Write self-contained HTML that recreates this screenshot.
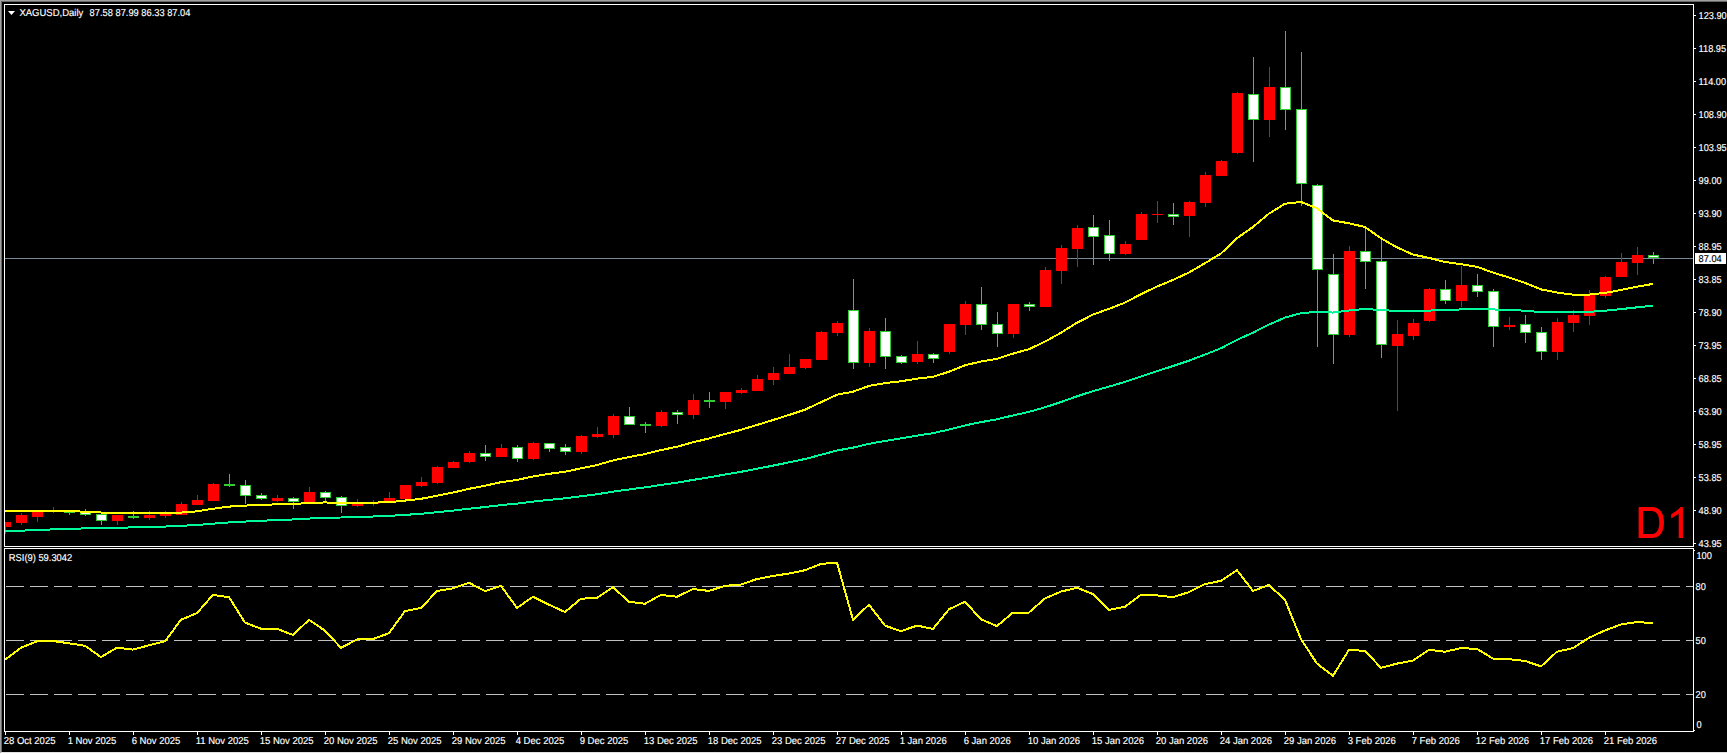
<!DOCTYPE html><html><head><meta charset="utf-8"><style>html,body{margin:0;padding:0;background:#000;}body{width:1727px;height:754px;overflow:hidden;}svg{display:block;}text{font-family:"Liberation Sans",sans-serif;text-rendering:geometricPrecision;}</style></head><body>
<svg width="1727" height="754" viewBox="0 0 1727 754">
<rect x="0" y="0" width="1727" height="754" fill="#000"/>
<rect x="0" y="0" width="1727" height="1" fill="#a0a0a0"/>
<rect x="0" y="0" width="1" height="753" fill="#a0a0a0"/>
<rect x="1" y="1" width="1726" height="1" fill="#696969"/>
<rect x="1" y="1" width="1" height="751" fill="#696969"/>
<rect x="1" y="752" width="1726" height="1" fill="#e3e3e3"/>
<rect x="0" y="753" width="1727" height="1" fill="#ffffff"/>
<g shape-rendering="crispEdges">
<rect x="4" y="4" width="1690" height="1" fill="#fff"/>
<rect x="4" y="546" width="1690" height="1" fill="#fff"/>
<rect x="4" y="4" width="1" height="543" fill="#fff"/>
<rect x="1693" y="4" width="1" height="543" fill="#fff"/>
<rect x="4" y="548" width="1690" height="1" fill="#fff"/>
<rect x="4" y="731" width="1690" height="1" fill="#fff"/>
<rect x="4" y="548" width="1" height="184" fill="#fff"/>
<rect x="1693" y="548" width="1" height="184" fill="#fff"/>
<rect x="1694" y="15" width="2" height="1" fill="#fff"/>
<rect x="1694" y="48" width="2" height="1" fill="#fff"/>
<rect x="1694" y="81" width="2" height="1" fill="#fff"/>
<rect x="1694" y="114" width="2" height="1" fill="#fff"/>
<rect x="1694" y="147" width="2" height="1" fill="#fff"/>
<rect x="1694" y="180" width="2" height="1" fill="#fff"/>
<rect x="1694" y="213" width="2" height="1" fill="#fff"/>
<rect x="1694" y="246" width="2" height="1" fill="#fff"/>
<rect x="1694" y="279" width="2" height="1" fill="#fff"/>
<rect x="1694" y="312" width="2" height="1" fill="#fff"/>
<rect x="1694" y="345" width="2" height="1" fill="#fff"/>
<rect x="1694" y="378" width="2" height="1" fill="#fff"/>
<rect x="1694" y="411" width="2" height="1" fill="#fff"/>
<rect x="1694" y="444" width="2" height="1" fill="#fff"/>
<rect x="1694" y="477" width="2" height="1" fill="#fff"/>
<rect x="1694" y="510" width="2" height="1" fill="#fff"/>
<rect x="1694" y="543" width="2" height="1" fill="#fff"/>
<rect x="1694" y="550" width="1" height="1" fill="#fff"/>
<rect x="1694" y="730" width="1" height="1" fill="#fff"/>
<rect x="5" y="732" width="1" height="3" fill="#fff"/>
<rect x="69" y="732" width="1" height="3" fill="#fff"/>
<rect x="133" y="732" width="1" height="3" fill="#fff"/>
<rect x="197" y="732" width="1" height="3" fill="#fff"/>
<rect x="261" y="732" width="1" height="3" fill="#fff"/>
<rect x="325" y="732" width="1" height="3" fill="#fff"/>
<rect x="389" y="732" width="1" height="3" fill="#fff"/>
<rect x="453" y="732" width="1" height="3" fill="#fff"/>
<rect x="517" y="732" width="1" height="3" fill="#fff"/>
<rect x="581" y="732" width="1" height="3" fill="#fff"/>
<rect x="645" y="732" width="1" height="3" fill="#fff"/>
<rect x="709" y="732" width="1" height="3" fill="#fff"/>
<rect x="773" y="732" width="1" height="3" fill="#fff"/>
<rect x="837" y="732" width="1" height="3" fill="#fff"/>
<rect x="901" y="732" width="1" height="3" fill="#fff"/>
<rect x="965" y="732" width="1" height="3" fill="#fff"/>
<rect x="1029" y="732" width="1" height="3" fill="#fff"/>
<rect x="1093" y="732" width="1" height="3" fill="#fff"/>
<rect x="1157" y="732" width="1" height="3" fill="#fff"/>
<rect x="1221" y="732" width="1" height="3" fill="#fff"/>
<rect x="1285" y="732" width="1" height="3" fill="#fff"/>
<rect x="1349" y="732" width="1" height="3" fill="#fff"/>
<rect x="1413" y="732" width="1" height="3" fill="#fff"/>
<rect x="1477" y="732" width="1" height="3" fill="#fff"/>
<rect x="1541" y="732" width="1" height="3" fill="#fff"/>
<rect x="1605" y="732" width="1" height="3" fill="#fff"/>
<line x1="6" y1="586.5" x2="1693" y2="586.5" stroke="#c0c0c0" stroke-width="1" stroke-dasharray="18 6"/>
<line x1="6" y1="640.5" x2="1693" y2="640.5" stroke="#c0c0c0" stroke-width="1" stroke-dasharray="18 6"/>
<line x1="6" y1="694.5" x2="1693" y2="694.5" stroke="#c0c0c0" stroke-width="1" stroke-dasharray="18 6"/>
<rect x="5" y="258" width="1688" height="1" fill="#778899"/>
<clipPath id="cm"><rect x="5" y="5" width="1688" height="541"/></clipPath>
<g clip-path="url(#cm)">
<rect x="5" y="522" width="1" height="12" fill="#ff0000"/>
<rect x="0" y="522" width="11" height="5" fill="#ff0000"/>
<rect x="21" y="513" width="1" height="12" fill="#ff0000"/>
<rect x="16" y="515" width="11" height="8" fill="#ff0000"/>
<rect x="37" y="510" width="1" height="12" fill="#ff0000"/>
<rect x="32" y="512" width="11" height="5" fill="#ff0000"/>
<rect x="53" y="507" width="1" height="6" fill="#ff0000"/>
<rect x="48" y="510" width="11" height="2" fill="#ff0000"/>
<rect x="69" y="510" width="1" height="5" fill="#32cd32"/>
<rect x="64" y="512" width="11" height="1" fill="#32cd32"/>
<rect x="85" y="509" width="1" height="7" fill="#32cd32"/>
<rect x="80" y="512" width="11" height="3" fill="#32cd32"/>
<rect x="81" y="513" width="9" height="1" fill="#fff"/>
<rect x="101" y="514" width="1" height="11" fill="#32cd32"/>
<rect x="96" y="514" width="11" height="7" fill="#32cd32"/>
<rect x="97" y="515" width="9" height="5" fill="#fff"/>
<rect x="117" y="515" width="1" height="10" fill="#ff0000"/>
<rect x="112" y="515" width="11" height="6" fill="#ff0000"/>
<rect x="133" y="511" width="1" height="8" fill="#32cd32"/>
<rect x="128" y="516" width="11" height="2" fill="#32cd32"/>
<rect x="149" y="511" width="1" height="9" fill="#ff0000"/>
<rect x="144" y="515" width="11" height="3" fill="#ff0000"/>
<rect x="165" y="511" width="1" height="7" fill="#ff0000"/>
<rect x="160" y="514" width="11" height="2" fill="#ff0000"/>
<rect x="181" y="502" width="1" height="13" fill="#ff0000"/>
<rect x="176" y="504" width="11" height="11" fill="#ff0000"/>
<rect x="197" y="495" width="1" height="10" fill="#ff0000"/>
<rect x="192" y="500" width="11" height="5" fill="#ff0000"/>
<rect x="213" y="483" width="1" height="18" fill="#ff0000"/>
<rect x="208" y="484" width="11" height="17" fill="#ff0000"/>
<rect x="229" y="474" width="1" height="13" fill="#32cd32"/>
<rect x="224" y="484" width="11" height="2" fill="#32cd32"/>
<rect x="245" y="480" width="1" height="24" fill="#32cd32"/>
<rect x="240" y="485" width="11" height="11" fill="#32cd32"/>
<rect x="241" y="486" width="9" height="9" fill="#fff"/>
<rect x="261" y="493" width="1" height="7" fill="#32cd32"/>
<rect x="256" y="495" width="11" height="4" fill="#32cd32"/>
<rect x="257" y="496" width="9" height="2" fill="#fff"/>
<rect x="277" y="495" width="1" height="7" fill="#ff0000"/>
<rect x="272" y="498" width="11" height="3" fill="#ff0000"/>
<rect x="293" y="497" width="1" height="12" fill="#32cd32"/>
<rect x="288" y="498" width="11" height="4" fill="#32cd32"/>
<rect x="289" y="499" width="9" height="2" fill="#fff"/>
<rect x="309" y="487" width="1" height="15" fill="#ff0000"/>
<rect x="304" y="492" width="11" height="10" fill="#ff0000"/>
<rect x="325" y="491" width="1" height="11" fill="#32cd32"/>
<rect x="320" y="492" width="11" height="6" fill="#32cd32"/>
<rect x="321" y="493" width="9" height="4" fill="#fff"/>
<rect x="341" y="496" width="1" height="17" fill="#32cd32"/>
<rect x="336" y="497" width="11" height="9" fill="#32cd32"/>
<rect x="337" y="498" width="9" height="7" fill="#fff"/>
<rect x="357" y="499" width="1" height="8" fill="#ff0000"/>
<rect x="352" y="502" width="11" height="4" fill="#ff0000"/>
<rect x="373" y="500" width="1" height="6" fill="#ff0000"/>
<rect x="368" y="502" width="11" height="2" fill="#ff0000"/>
<rect x="389" y="492" width="1" height="9" fill="#ff0000"/>
<rect x="384" y="498" width="11" height="3" fill="#ff0000"/>
<rect x="405" y="485" width="1" height="14" fill="#ff0000"/>
<rect x="400" y="485" width="11" height="14" fill="#ff0000"/>
<rect x="421" y="477" width="1" height="10" fill="#ff0000"/>
<rect x="416" y="482" width="11" height="4" fill="#ff0000"/>
<rect x="437" y="466" width="1" height="18" fill="#ff0000"/>
<rect x="432" y="467" width="11" height="16" fill="#ff0000"/>
<rect x="453" y="461" width="1" height="7" fill="#ff0000"/>
<rect x="448" y="462" width="11" height="6" fill="#ff0000"/>
<rect x="469" y="451" width="1" height="12" fill="#ff0000"/>
<rect x="464" y="453" width="11" height="9" fill="#ff0000"/>
<rect x="485" y="445" width="1" height="16" fill="#32cd32"/>
<rect x="480" y="453" width="11" height="4" fill="#32cd32"/>
<rect x="481" y="454" width="9" height="2" fill="#fff"/>
<rect x="501" y="444" width="1" height="13" fill="#ff0000"/>
<rect x="496" y="448" width="11" height="9" fill="#ff0000"/>
<rect x="517" y="445" width="1" height="17" fill="#32cd32"/>
<rect x="512" y="447" width="11" height="12" fill="#32cd32"/>
<rect x="513" y="448" width="9" height="10" fill="#fff"/>
<rect x="533" y="442" width="1" height="18" fill="#ff0000"/>
<rect x="528" y="443" width="11" height="16" fill="#ff0000"/>
<rect x="549" y="443" width="1" height="9" fill="#32cd32"/>
<rect x="544" y="443" width="11" height="6" fill="#32cd32"/>
<rect x="545" y="444" width="9" height="4" fill="#fff"/>
<rect x="565" y="444" width="1" height="11" fill="#32cd32"/>
<rect x="560" y="447" width="11" height="5" fill="#32cd32"/>
<rect x="561" y="448" width="9" height="3" fill="#fff"/>
<rect x="581" y="435" width="1" height="19" fill="#ff0000"/>
<rect x="576" y="436" width="11" height="16" fill="#ff0000"/>
<rect x="597" y="427" width="1" height="11" fill="#ff0000"/>
<rect x="592" y="434" width="11" height="3" fill="#ff0000"/>
<rect x="613" y="414" width="1" height="24" fill="#ff0000"/>
<rect x="608" y="416" width="11" height="19" fill="#ff0000"/>
<rect x="629" y="407" width="1" height="18" fill="#32cd32"/>
<rect x="624" y="416" width="11" height="9" fill="#32cd32"/>
<rect x="625" y="417" width="9" height="7" fill="#fff"/>
<rect x="645" y="422" width="1" height="11" fill="#32cd32"/>
<rect x="640" y="424" width="11" height="2" fill="#32cd32"/>
<rect x="661" y="410" width="1" height="17" fill="#ff0000"/>
<rect x="656" y="412" width="11" height="14" fill="#ff0000"/>
<rect x="677" y="410" width="1" height="14" fill="#32cd32"/>
<rect x="672" y="412" width="11" height="3" fill="#32cd32"/>
<rect x="673" y="413" width="9" height="1" fill="#fff"/>
<rect x="693" y="394" width="1" height="25" fill="#ff0000"/>
<rect x="688" y="400" width="11" height="15" fill="#ff0000"/>
<rect x="709" y="392" width="1" height="16" fill="#32cd32"/>
<rect x="704" y="400" width="11" height="2" fill="#32cd32"/>
<rect x="725" y="392" width="1" height="17" fill="#ff0000"/>
<rect x="720" y="392" width="11" height="10" fill="#ff0000"/>
<rect x="741" y="388" width="1" height="6" fill="#ff0000"/>
<rect x="736" y="390" width="11" height="3" fill="#ff0000"/>
<rect x="757" y="375" width="1" height="16" fill="#ff0000"/>
<rect x="752" y="379" width="11" height="12" fill="#ff0000"/>
<rect x="773" y="367" width="1" height="18" fill="#ff0000"/>
<rect x="768" y="373" width="11" height="7" fill="#ff0000"/>
<rect x="789" y="354" width="1" height="20" fill="#ff0000"/>
<rect x="784" y="367" width="11" height="7" fill="#ff0000"/>
<rect x="805" y="359" width="1" height="10" fill="#ff0000"/>
<rect x="800" y="359" width="11" height="9" fill="#ff0000"/>
<rect x="821" y="331" width="1" height="29" fill="#ff0000"/>
<rect x="816" y="332" width="11" height="28" fill="#ff0000"/>
<rect x="837" y="321" width="1" height="15" fill="#ff0000"/>
<rect x="832" y="323" width="11" height="10" fill="#ff0000"/>
<rect x="853" y="279" width="1" height="90" fill="#32cd32"/>
<rect x="848" y="310" width="11" height="53" fill="#32cd32"/>
<rect x="849" y="311" width="9" height="51" fill="#fff"/>
<rect x="869" y="328" width="1" height="39" fill="#ff0000"/>
<rect x="864" y="331" width="11" height="32" fill="#ff0000"/>
<rect x="885" y="318" width="1" height="51" fill="#32cd32"/>
<rect x="880" y="331" width="11" height="26" fill="#32cd32"/>
<rect x="881" y="332" width="9" height="24" fill="#fff"/>
<rect x="901" y="355" width="1" height="9" fill="#32cd32"/>
<rect x="896" y="356" width="11" height="7" fill="#32cd32"/>
<rect x="897" y="357" width="9" height="5" fill="#fff"/>
<rect x="917" y="341" width="1" height="23" fill="#ff0000"/>
<rect x="912" y="354" width="11" height="8" fill="#ff0000"/>
<rect x="933" y="353" width="1" height="10" fill="#32cd32"/>
<rect x="928" y="354" width="11" height="5" fill="#32cd32"/>
<rect x="929" y="355" width="9" height="3" fill="#fff"/>
<rect x="949" y="324" width="1" height="30" fill="#ff0000"/>
<rect x="944" y="324" width="11" height="28" fill="#ff0000"/>
<rect x="965" y="301" width="1" height="34" fill="#ff0000"/>
<rect x="960" y="304" width="11" height="21" fill="#ff0000"/>
<rect x="981" y="287" width="1" height="43" fill="#32cd32"/>
<rect x="976" y="304" width="11" height="21" fill="#32cd32"/>
<rect x="977" y="305" width="9" height="19" fill="#fff"/>
<rect x="997" y="312" width="1" height="35" fill="#32cd32"/>
<rect x="992" y="324" width="11" height="10" fill="#32cd32"/>
<rect x="993" y="325" width="9" height="8" fill="#fff"/>
<rect x="1013" y="304" width="1" height="34" fill="#ff0000"/>
<rect x="1008" y="304" width="11" height="30" fill="#ff0000"/>
<rect x="1029" y="302" width="1" height="9" fill="#32cd32"/>
<rect x="1024" y="304" width="11" height="3" fill="#32cd32"/>
<rect x="1025" y="305" width="9" height="1" fill="#fff"/>
<rect x="1045" y="267" width="1" height="40" fill="#ff0000"/>
<rect x="1040" y="270" width="11" height="37" fill="#ff0000"/>
<rect x="1061" y="245" width="1" height="39" fill="#ff0000"/>
<rect x="1056" y="248" width="11" height="23" fill="#ff0000"/>
<rect x="1077" y="225" width="1" height="42" fill="#ff0000"/>
<rect x="1072" y="228" width="11" height="21" fill="#ff0000"/>
<rect x="1093" y="215" width="1" height="50" fill="#32cd32"/>
<rect x="1088" y="227" width="11" height="10" fill="#32cd32"/>
<rect x="1089" y="228" width="9" height="8" fill="#fff"/>
<rect x="1109" y="220" width="1" height="41" fill="#32cd32"/>
<rect x="1104" y="235" width="11" height="19" fill="#32cd32"/>
<rect x="1105" y="236" width="9" height="17" fill="#fff"/>
<rect x="1125" y="241" width="1" height="14" fill="#ff0000"/>
<rect x="1120" y="244" width="11" height="10" fill="#ff0000"/>
<rect x="1141" y="212" width="1" height="28" fill="#ff0000"/>
<rect x="1136" y="214" width="11" height="26" fill="#ff0000"/>
<rect x="1157" y="201" width="1" height="22" fill="#ff0000"/>
<rect x="1152" y="214" width="11" height="1" fill="#ff0000"/>
<rect x="1173" y="203" width="1" height="22" fill="#32cd32"/>
<rect x="1168" y="214" width="11" height="3" fill="#32cd32"/>
<rect x="1169" y="215" width="9" height="1" fill="#fff"/>
<rect x="1189" y="201" width="1" height="36" fill="#ff0000"/>
<rect x="1184" y="202" width="11" height="14" fill="#ff0000"/>
<rect x="1205" y="172" width="1" height="35" fill="#ff0000"/>
<rect x="1200" y="175" width="11" height="28" fill="#ff0000"/>
<rect x="1221" y="160" width="1" height="16" fill="#ff0000"/>
<rect x="1216" y="161" width="11" height="15" fill="#ff0000"/>
<rect x="1237" y="92" width="1" height="62" fill="#ff0000"/>
<rect x="1232" y="93" width="11" height="60" fill="#ff0000"/>
<rect x="1253" y="57" width="1" height="105" fill="#32cd32"/>
<rect x="1248" y="94" width="11" height="26" fill="#32cd32"/>
<rect x="1249" y="95" width="9" height="24" fill="#fff"/>
<rect x="1269" y="67" width="1" height="70" fill="#ff0000"/>
<rect x="1264" y="87" width="11" height="33" fill="#ff0000"/>
<rect x="1285" y="31" width="1" height="99" fill="#32cd32"/>
<rect x="1280" y="87" width="11" height="23" fill="#32cd32"/>
<rect x="1281" y="88" width="9" height="21" fill="#fff"/>
<rect x="1301" y="52" width="1" height="154" fill="#32cd32"/>
<rect x="1296" y="109" width="11" height="75" fill="#32cd32"/>
<rect x="1297" y="110" width="9" height="73" fill="#fff"/>
<rect x="1317" y="184" width="1" height="163" fill="#32cd32"/>
<rect x="1312" y="185" width="11" height="85" fill="#32cd32"/>
<rect x="1313" y="186" width="9" height="83" fill="#fff"/>
<rect x="1333" y="254" width="1" height="110" fill="#32cd32"/>
<rect x="1328" y="274" width="11" height="61" fill="#32cd32"/>
<rect x="1329" y="275" width="9" height="59" fill="#fff"/>
<rect x="1349" y="246" width="1" height="91" fill="#ff0000"/>
<rect x="1344" y="251" width="11" height="84" fill="#ff0000"/>
<rect x="1365" y="228" width="1" height="61" fill="#32cd32"/>
<rect x="1360" y="251" width="11" height="11" fill="#32cd32"/>
<rect x="1361" y="252" width="9" height="9" fill="#fff"/>
<rect x="1381" y="238" width="1" height="120" fill="#32cd32"/>
<rect x="1376" y="261" width="11" height="84" fill="#32cd32"/>
<rect x="1377" y="262" width="9" height="82" fill="#fff"/>
<rect x="1397" y="320" width="1" height="91" fill="#ff0000"/>
<rect x="1392" y="334" width="11" height="12" fill="#ff0000"/>
<rect x="1413" y="319" width="1" height="21" fill="#ff0000"/>
<rect x="1408" y="323" width="11" height="13" fill="#ff0000"/>
<rect x="1429" y="288" width="1" height="34" fill="#ff0000"/>
<rect x="1424" y="289" width="11" height="32" fill="#ff0000"/>
<rect x="1445" y="280" width="1" height="24" fill="#32cd32"/>
<rect x="1440" y="289" width="11" height="12" fill="#32cd32"/>
<rect x="1441" y="290" width="9" height="10" fill="#fff"/>
<rect x="1461" y="266" width="1" height="41" fill="#ff0000"/>
<rect x="1456" y="285" width="11" height="16" fill="#ff0000"/>
<rect x="1477" y="274" width="1" height="23" fill="#32cd32"/>
<rect x="1472" y="285" width="11" height="7" fill="#32cd32"/>
<rect x="1473" y="286" width="9" height="5" fill="#fff"/>
<rect x="1493" y="289" width="1" height="58" fill="#32cd32"/>
<rect x="1488" y="291" width="11" height="36" fill="#32cd32"/>
<rect x="1489" y="292" width="9" height="34" fill="#fff"/>
<rect x="1509" y="317" width="1" height="13" fill="#ff0000"/>
<rect x="1504" y="325" width="11" height="2" fill="#ff0000"/>
<rect x="1525" y="315" width="1" height="28" fill="#32cd32"/>
<rect x="1520" y="324" width="11" height="9" fill="#32cd32"/>
<rect x="1521" y="325" width="9" height="7" fill="#fff"/>
<rect x="1541" y="327" width="1" height="33" fill="#32cd32"/>
<rect x="1536" y="332" width="11" height="20" fill="#32cd32"/>
<rect x="1537" y="333" width="9" height="18" fill="#fff"/>
<rect x="1557" y="318" width="1" height="42" fill="#ff0000"/>
<rect x="1552" y="322" width="11" height="30" fill="#ff0000"/>
<rect x="1573" y="310" width="1" height="22" fill="#ff0000"/>
<rect x="1568" y="315" width="11" height="8" fill="#ff0000"/>
<rect x="1589" y="290" width="1" height="35" fill="#ff0000"/>
<rect x="1584" y="294" width="11" height="22" fill="#ff0000"/>
<rect x="1605" y="276" width="1" height="22" fill="#ff0000"/>
<rect x="1600" y="277" width="11" height="19" fill="#ff0000"/>
<rect x="1621" y="253" width="1" height="24" fill="#ff0000"/>
<rect x="1616" y="262" width="11" height="15" fill="#ff0000"/>
<rect x="1637" y="247" width="1" height="28" fill="#ff0000"/>
<rect x="1632" y="255" width="11" height="8" fill="#ff0000"/>
<rect x="1653" y="252" width="1" height="12" fill="#32cd32"/>
<rect x="1648" y="255" width="11" height="3" fill="#32cd32"/>
<rect x="1649" y="256" width="9" height="1" fill="#fff"/>
<polyline points="5,531.19 21,530.66 37,530.05 53,529.39 69,528.85 85,528.4 101,528.15 117,527.72 133,527.4 149,527.0 165,526.57 181,525.83 197,524.98 213,523.64 229,522.41 245,521.54 261,520.8 277,520.05 293,519.46 309,518.56 325,517.89 341,517.5 357,516.99 373,516.5 389,515.89 405,514.88 421,513.8 437,512.27 453,510.62 469,508.73 485,507.03 501,505.1 517,503.59 533,501.6 549,499.88 565,498.31 581,496.26 597,494.22 613,491.66 629,489.47 645,487.39 661,484.92 677,482.63 693,479.92 709,477.36 725,474.56 741,471.79 757,468.75 773,465.61 789,462.38 805,458.99 821,454.82 837,450.5 853,447.63 869,443.81 885,440.96 901,438.41 917,435.64 933,433.13 949,429.55 965,425.43 981,422.14 997,419.25 1013,415.47 1029,411.91 1045,407.26 1061,402.04 1077,396.33 1093,391.11 1109,386.61 1125,381.94 1141,376.43 1157,371.11 1173,366.05 1189,360.67 1205,354.59 1221,348.24 1237,339.87 1253,332.66 1269,324.61 1285,317.57 1301,313.19 1317,311.78 1333,312.54 1349,310.52 1365,308.93 1381,310.11 1397,310.89 1413,311.29 1429,310.56 1445,310.25 1461,309.42 1477,308.85 1493,309.44 1509,309.95 1525,310.71 1541,312.06 1557,312.39 1573,312.47 1589,311.87 1605,310.73 1621,309.13 1637,307.35 1653,305.74" fill="none" stroke="#00fa9a" stroke-width="2" stroke-linejoin="round"/>
<polyline points="5,510.69 21,511.1 37,511.19 53,511.07 69,511.26 85,511.61 101,512.51 117,512.74 133,513.25 149,513.41 165,513.47 181,512.57 197,511.37 213,508.76 229,506.6 245,505.59 261,504.96 277,504.3 293,504.08 309,502.93 325,502.46 341,502.8 357,502.72 373,502.65 389,502.21 405,500.57 421,498.8 437,495.77 453,492.56 469,488.79 485,485.76 501,482.16 517,479.96 533,476.44 549,473.83 565,471.75 581,468.34 597,465.07 613,460.4 629,457.03 645,454.07 661,450.07 677,446.73 693,442.28 709,438.44 725,434.02 741,429.82 757,424.98 773,420.03 789,414.98 805,409.65 821,402.26 837,394.71 853,391.69 869,385.91 885,383.15 901,381.24 917,378.64 933,376.77 949,371.75 965,365.29 981,361.46 997,358.84 1013,353.62 1029,349.18 1045,341.64 1061,332.72 1077,322.75 1093,314.58 1109,308.81 1125,302.64 1141,294.2 1157,286.56 1173,279.93 1189,272.51 1205,263.22 1221,253.49 1237,238.2 1253,226.95 1269,213.62 1285,203.75 1301,201.87 1317,208.36 1333,220.42 1349,223.33 1365,227.01 1381,238.25 1397,247.37 1413,254.57 1429,257.85 1445,261.96 1461,264.16 1477,266.81 1493,272.54 1509,277.54 1525,282.82 1541,289.41 1557,292.51 1573,294.65 1589,294.59 1605,292.92 1621,289.97 1637,286.64 1653,283.91" fill="none" stroke="#ffff00" stroke-width="2" stroke-linejoin="round"/>
</g>
<clipPath id="cr"><rect x="5" y="549" width="1688" height="182"/></clipPath>
<g clip-path="url(#cr)">
<polyline points="5,659.7 21,647.8 37,641.3 53,641 69,643.3 85,645.8 101,657.1 117,647.6 133,649.6 149,645.3 165,641.3 181,619.8 197,613 213,594.9 229,597.2 245,622.6 261,628.7 277,628.7 293,635 309,619.8 325,630.7 341,647.8 357,639.5 373,639 389,633.2 405,611 421,608 437,591.1 453,588.3 469,582.8 485,591.1 501,585.8 517,608 533,596.7 549,604.7 565,612 581,598.7 597,597.9 613,587.3 629,601.7 645,603.7 661,594.9 677,596.7 693,589.1 709,590.9 725,585.8 741,584.6 757,579 773,576 789,573.5 805,570.2 821,563.9 837,562.6 853,619.8 869,604.7 885,625.6 901,631.2 917,625.6 933,628.9 949,609.3 965,601.7 981,619.3 997,626.1 1013,612.5 1029,612.5 1045,598.4 1061,591.6 1077,587.8 1093,594.1 1109,610 1125,606.7 1141,594.9 1157,595.4 1173,597.2 1189,592.1 1205,584.1 1221,580.8 1237,570.2 1253,590.9 1269,585 1285,599.9 1301,639.2 1317,663.6 1333,675.8 1349,649.8 1365,650.9 1381,667.8 1397,663.6 1413,660.6 1429,649.8 1445,651.7 1461,648.1 1477,648.9 1493,658.6 1509,659.2 1525,660.9 1541,666.4 1557,651.7 1573,648.1 1589,637.8 1605,630.4 1621,624.5 1637,622 1653,623.2" fill="none" stroke="#ffff00" stroke-width="2" stroke-linejoin="round"/>
</g>
<rect x="1695" y="253" width="31" height="11" fill="#fff"/>
</g>
<g font-size="10" fill="#fff" stroke="#fff" stroke-width="0.15">
<text transform="translate(1698.6,19) scale(0.92,1)">123.90</text>
<text transform="translate(1698.6,52) scale(0.92,1)">118.95</text>
<text transform="translate(1698.6,85) scale(0.92,1)">114.00</text>
<text transform="translate(1698.6,118) scale(0.92,1)">108.90</text>
<text transform="translate(1698.6,151) scale(0.92,1)">103.95</text>
<text transform="translate(1698.6,184) scale(0.92,1)">99.00</text>
<text transform="translate(1698.6,217) scale(0.92,1)">93.90</text>
<text transform="translate(1698.6,250) scale(0.92,1)">88.95</text>
<text transform="translate(1698.6,283) scale(0.92,1)">83.85</text>
<text transform="translate(1698.6,316) scale(0.92,1)">78.90</text>
<text transform="translate(1698.6,349) scale(0.92,1)">73.95</text>
<text transform="translate(1698.6,382) scale(0.92,1)">68.85</text>
<text transform="translate(1698.6,415) scale(0.92,1)">63.90</text>
<text transform="translate(1698.6,448) scale(0.92,1)">58.95</text>
<text transform="translate(1698.6,481) scale(0.92,1)">53.85</text>
<text transform="translate(1698.6,514) scale(0.92,1)">48.90</text>
<text transform="translate(1698.6,547) scale(0.92,1)">43.95</text>
<text transform="translate(1698.6,262) scale(0.92,1)" fill="#000" stroke="#000">87.04</text>
<text transform="translate(1696.5,559) scale(0.92,1)">100</text>
<text transform="translate(1695.6,590) scale(0.92,1)">80</text>
<text transform="translate(1695.6,644) scale(0.92,1)">50</text>
<text transform="translate(1695.6,698) scale(0.92,1)">20</text>
<text transform="translate(1696.6,728) scale(0.92,1)">0</text>
<text transform="translate(3.7,744) scale(0.95,1)">28 Oct 2025</text>
<text transform="translate(67.7,744) scale(0.95,1)">1 Nov 2025</text>
<text transform="translate(131.7,744) scale(0.95,1)">6 Nov 2025</text>
<text transform="translate(195.7,744) scale(0.95,1)">11 Nov 2025</text>
<text transform="translate(259.7,744) scale(0.95,1)">15 Nov 2025</text>
<text transform="translate(323.7,744) scale(0.95,1)">20 Nov 2025</text>
<text transform="translate(387.7,744) scale(0.95,1)">25 Nov 2025</text>
<text transform="translate(451.7,744) scale(0.95,1)">29 Nov 2025</text>
<text transform="translate(515.7,744) scale(0.95,1)">4 Dec 2025</text>
<text transform="translate(579.7,744) scale(0.95,1)">9 Dec 2025</text>
<text transform="translate(643.7,744) scale(0.95,1)">13 Dec 2025</text>
<text transform="translate(707.7,744) scale(0.95,1)">18 Dec 2025</text>
<text transform="translate(771.7,744) scale(0.95,1)">23 Dec 2025</text>
<text transform="translate(835.7,744) scale(0.95,1)">27 Dec 2025</text>
<text transform="translate(899.7,744) scale(0.95,1)">1 Jan 2026</text>
<text transform="translate(963.7,744) scale(0.95,1)">6 Jan 2026</text>
<text transform="translate(1027.7,744) scale(0.95,1)">10 Jan 2026</text>
<text transform="translate(1091.7,744) scale(0.95,1)">15 Jan 2026</text>
<text transform="translate(1155.7,744) scale(0.95,1)">20 Jan 2026</text>
<text transform="translate(1219.7,744) scale(0.95,1)">24 Jan 2026</text>
<text transform="translate(1283.7,744) scale(0.95,1)">29 Jan 2026</text>
<text transform="translate(1347.7,744) scale(0.95,1)">3 Feb 2026</text>
<text transform="translate(1411.7,744) scale(0.95,1)">7 Feb 2026</text>
<text transform="translate(1475.7,744) scale(0.95,1)">12 Feb 2026</text>
<text transform="translate(1539.7,744) scale(0.95,1)">17 Feb 2026</text>
<text transform="translate(1603.7,744) scale(0.95,1)">21 Feb 2026</text>
<text transform="translate(19.4,16) scale(0.95,1)">XAGUSD,Daily</text>
<text transform="translate(89.6,16) scale(0.93,1)">87.58 87.99 86.33 87.04</text>
<text transform="translate(8.8,561) scale(0.935,1)">RSI(9) 59.3042</text>
</g>
<polygon points="8,11 15,11 11.5,15" fill="#fff"/>
<path fill="#ff0000" fill-rule="evenodd" d="M1638.6 507 L1652 507 C1659.5 507 1664 513 1664 522.4 C1664 532 1659.5 538 1652 538 L1638.6 538 Z M1643 511 L1651.5 511 C1656.8 511 1659.3 515.5 1659.3 522.4 C1659.3 529.5 1656.8 534 1651.5 534 L1643 534 Z"/>
<path fill="#ff0000" d="M1680.6 507 L1682.9 507 L1682.9 538 L1678.7 538 L1678.7 513.7 L1671.2 518.4 L1671.2 514.2 Q1677.5 510.8 1680.6 507 Z"/>
</svg></body></html>
